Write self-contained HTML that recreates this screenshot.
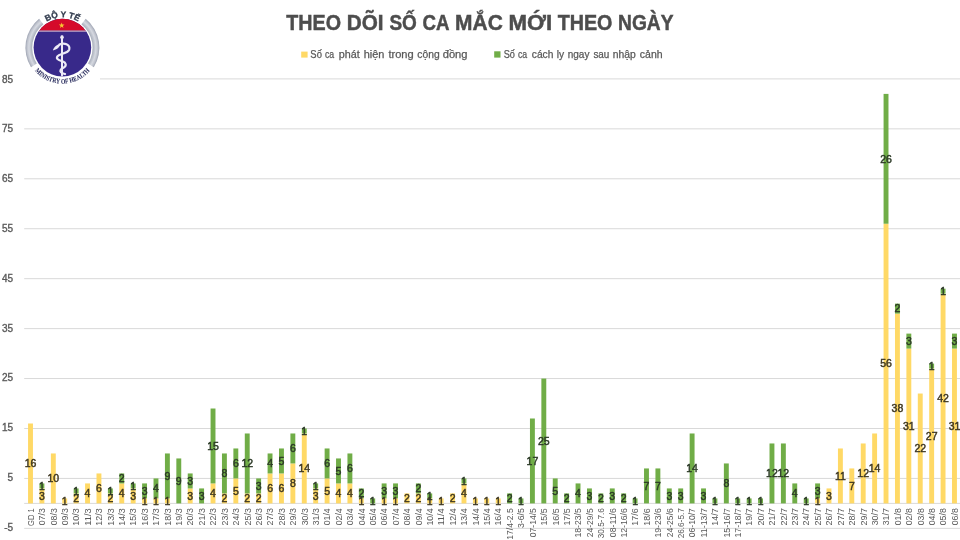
<!DOCTYPE html>
<html><head><meta charset="utf-8"><title>Theo dõi số ca mắc mới theo ngày</title>
<style>html,body{margin:0;padding:0;background:#fff;}svg{display:block;will-change:transform;font-family:'Liberation Sans', sans-serif;}</style>
</head><body>
<svg width="960" height="540" viewBox="0 0 960 540">
<rect width="960" height="540" fill="#fff"/>
<line x1="24.2" y1="528.37" x2="960" y2="528.37" stroke="#D9D9D9" stroke-width="1"/>
<line x1="24.2" y1="478.43" x2="960" y2="478.43" stroke="#D9D9D9" stroke-width="1"/>
<line x1="24.2" y1="428.49" x2="960" y2="428.49" stroke="#D9D9D9" stroke-width="1"/>
<line x1="24.2" y1="378.55" x2="960" y2="378.55" stroke="#D9D9D9" stroke-width="1"/>
<line x1="24.2" y1="328.61" x2="960" y2="328.61" stroke="#D9D9D9" stroke-width="1"/>
<line x1="24.2" y1="278.67" x2="960" y2="278.67" stroke="#D9D9D9" stroke-width="1"/>
<line x1="24.2" y1="228.73" x2="960" y2="228.73" stroke="#D9D9D9" stroke-width="1"/>
<line x1="24.2" y1="178.79" x2="960" y2="178.79" stroke="#D9D9D9" stroke-width="1"/>
<line x1="24.2" y1="128.85" x2="960" y2="128.85" stroke="#D9D9D9" stroke-width="1"/>
<line x1="99.6" y1="78.91" x2="960" y2="78.91" stroke="#D9D9D9" stroke-width="1"/>
<line x1="24.2" y1="503.4" x2="960" y2="503.4" stroke="#D9D9D9" stroke-width="1"/>
<text x="13.1" y="531" font-size="10" fill="#595959" stroke="#595959" stroke-width="0.35" text-anchor="end">-5</text>
<text x="13.1" y="481.06" font-size="10" fill="#595959" stroke="#595959" stroke-width="0.35" text-anchor="end">5</text>
<text x="13.1" y="431.25" font-size="10" fill="#595959" stroke="#595959" stroke-width="0.35" text-anchor="end">15</text>
<text x="13.1" y="381.44" font-size="10" fill="#595959" stroke="#595959" stroke-width="0.35" text-anchor="end">25</text>
<text x="13.1" y="331.63" font-size="10" fill="#595959" stroke="#595959" stroke-width="0.35" text-anchor="end">35</text>
<text x="13.1" y="281.82" font-size="10" fill="#595959" stroke="#595959" stroke-width="0.35" text-anchor="end">45</text>
<text x="13.1" y="232.02" font-size="10" fill="#595959" stroke="#595959" stroke-width="0.35" text-anchor="end">55</text>
<text x="13.1" y="182.21" font-size="10" fill="#595959" stroke="#595959" stroke-width="0.35" text-anchor="end">65</text>
<text x="13.1" y="132.4" font-size="10" fill="#595959" stroke="#595959" stroke-width="0.35" text-anchor="end">75</text>
<text x="13.1" y="82.59" font-size="10" fill="#595959" stroke="#595959" stroke-width="0.35" text-anchor="end">85</text>
<rect x="28.05" y="423.5" width="4.9" height="79.9" fill="#FFD966"/>
<rect x="39.46" y="488.42" width="4.9" height="14.98" fill="#FFD966"/>
<rect x="39.46" y="483.42" width="4.9" height="4.99" fill="#70AD47"/>
<rect x="50.87" y="453.46" width="4.9" height="49.94" fill="#FFD966"/>
<rect x="62.27" y="498.41" width="4.9" height="4.99" fill="#FFD966"/>
<rect x="73.68" y="493.41" width="4.9" height="9.99" fill="#FFD966"/>
<rect x="73.68" y="488.42" width="4.9" height="4.99" fill="#70AD47"/>
<rect x="85.09" y="483.42" width="4.9" height="19.98" fill="#FFD966"/>
<rect x="96.5" y="473.44" width="4.9" height="29.96" fill="#FFD966"/>
<rect x="107.9" y="493.41" width="4.9" height="9.99" fill="#FFD966"/>
<rect x="107.9" y="488.42" width="4.9" height="4.99" fill="#70AD47"/>
<rect x="119.31" y="483.42" width="4.9" height="19.98" fill="#FFD966"/>
<rect x="119.31" y="473.44" width="4.9" height="9.99" fill="#70AD47"/>
<rect x="130.72" y="488.42" width="4.9" height="14.98" fill="#FFD966"/>
<rect x="130.72" y="483.42" width="4.9" height="4.99" fill="#70AD47"/>
<rect x="142.12" y="498.41" width="4.9" height="4.99" fill="#FFD966"/>
<rect x="142.12" y="483.42" width="4.9" height="14.98" fill="#70AD47"/>
<rect x="153.53" y="498.41" width="4.9" height="4.99" fill="#FFD966"/>
<rect x="153.53" y="478.43" width="4.9" height="19.98" fill="#70AD47"/>
<rect x="164.94" y="498.41" width="4.9" height="4.99" fill="#FFD966"/>
<rect x="164.94" y="453.46" width="4.9" height="44.95" fill="#70AD47"/>
<rect x="176.34" y="458.45" width="4.9" height="44.95" fill="#70AD47"/>
<rect x="187.75" y="488.42" width="4.9" height="14.98" fill="#FFD966"/>
<rect x="187.75" y="473.44" width="4.9" height="14.98" fill="#70AD47"/>
<rect x="199.16" y="488.42" width="4.9" height="14.98" fill="#70AD47"/>
<rect x="210.57" y="483.42" width="4.9" height="19.98" fill="#FFD966"/>
<rect x="210.57" y="408.51" width="4.9" height="74.91" fill="#70AD47"/>
<rect x="221.97" y="493.41" width="4.9" height="9.99" fill="#FFD966"/>
<rect x="221.97" y="453.46" width="4.9" height="39.95" fill="#70AD47"/>
<rect x="233.38" y="478.43" width="4.9" height="24.97" fill="#FFD966"/>
<rect x="233.38" y="448.47" width="4.9" height="29.96" fill="#70AD47"/>
<rect x="244.79" y="493.41" width="4.9" height="9.99" fill="#FFD966"/>
<rect x="244.79" y="433.48" width="4.9" height="59.93" fill="#70AD47"/>
<rect x="256.19" y="493.41" width="4.9" height="9.99" fill="#FFD966"/>
<rect x="256.19" y="478.43" width="4.9" height="14.98" fill="#70AD47"/>
<rect x="267.6" y="473.44" width="4.9" height="29.96" fill="#FFD966"/>
<rect x="267.6" y="453.46" width="4.9" height="19.98" fill="#70AD47"/>
<rect x="279.01" y="473.44" width="4.9" height="29.96" fill="#FFD966"/>
<rect x="279.01" y="448.47" width="4.9" height="24.97" fill="#70AD47"/>
<rect x="290.41" y="463.45" width="4.9" height="39.95" fill="#FFD966"/>
<rect x="290.41" y="433.48" width="4.9" height="29.96" fill="#70AD47"/>
<rect x="301.82" y="433.48" width="4.9" height="69.92" fill="#FFD966"/>
<rect x="301.82" y="428.49" width="4.9" height="4.99" fill="#70AD47"/>
<rect x="313.23" y="488.42" width="4.9" height="14.98" fill="#FFD966"/>
<rect x="313.23" y="483.42" width="4.9" height="4.99" fill="#70AD47"/>
<rect x="324.64" y="478.43" width="4.9" height="24.97" fill="#FFD966"/>
<rect x="324.64" y="448.47" width="4.9" height="29.96" fill="#70AD47"/>
<rect x="336.04" y="483.42" width="4.9" height="19.98" fill="#FFD966"/>
<rect x="336.04" y="458.45" width="4.9" height="24.97" fill="#70AD47"/>
<rect x="347.45" y="483.42" width="4.9" height="19.98" fill="#FFD966"/>
<rect x="347.45" y="453.46" width="4.9" height="29.96" fill="#70AD47"/>
<rect x="358.86" y="498.41" width="4.9" height="4.99" fill="#FFD966"/>
<rect x="358.86" y="488.42" width="4.9" height="9.99" fill="#70AD47"/>
<rect x="370.26" y="498.41" width="4.9" height="4.99" fill="#70AD47"/>
<rect x="381.67" y="498.41" width="4.9" height="4.99" fill="#FFD966"/>
<rect x="381.67" y="483.42" width="4.9" height="14.98" fill="#70AD47"/>
<rect x="393.08" y="498.41" width="4.9" height="4.99" fill="#FFD966"/>
<rect x="393.08" y="483.42" width="4.9" height="14.98" fill="#70AD47"/>
<rect x="404.48" y="493.41" width="4.9" height="9.99" fill="#FFD966"/>
<rect x="415.89" y="493.41" width="4.9" height="9.99" fill="#FFD966"/>
<rect x="415.89" y="483.42" width="4.9" height="9.99" fill="#70AD47"/>
<rect x="427.3" y="498.41" width="4.9" height="4.99" fill="#FFD966"/>
<rect x="427.3" y="493.41" width="4.9" height="4.99" fill="#70AD47"/>
<rect x="438.71" y="498.41" width="4.9" height="4.99" fill="#FFD966"/>
<rect x="450.11" y="493.41" width="4.9" height="9.99" fill="#FFD966"/>
<rect x="461.52" y="483.42" width="4.9" height="19.98" fill="#FFD966"/>
<rect x="461.52" y="478.43" width="4.9" height="4.99" fill="#70AD47"/>
<rect x="472.93" y="498.41" width="4.9" height="4.99" fill="#FFD966"/>
<rect x="484.33" y="498.41" width="4.9" height="4.99" fill="#FFD966"/>
<rect x="495.74" y="498.41" width="4.9" height="4.99" fill="#FFD966"/>
<rect x="507.15" y="493.41" width="4.9" height="9.99" fill="#70AD47"/>
<rect x="518.55" y="498.41" width="4.9" height="4.99" fill="#70AD47"/>
<rect x="529.96" y="418.5" width="4.9" height="84.9" fill="#70AD47"/>
<rect x="541.37" y="378.55" width="4.9" height="124.85" fill="#70AD47"/>
<rect x="552.78" y="478.43" width="4.9" height="24.97" fill="#70AD47"/>
<rect x="564.18" y="493.41" width="4.9" height="9.99" fill="#70AD47"/>
<rect x="575.59" y="483.42" width="4.9" height="19.98" fill="#70AD47"/>
<rect x="587" y="488.42" width="4.9" height="14.98" fill="#70AD47"/>
<rect x="598.4" y="493.41" width="4.9" height="9.99" fill="#70AD47"/>
<rect x="609.81" y="488.42" width="4.9" height="14.98" fill="#70AD47"/>
<rect x="621.22" y="493.41" width="4.9" height="9.99" fill="#70AD47"/>
<rect x="632.62" y="498.41" width="4.9" height="4.99" fill="#70AD47"/>
<rect x="644.03" y="468.44" width="4.9" height="34.96" fill="#70AD47"/>
<rect x="655.44" y="468.44" width="4.9" height="34.96" fill="#70AD47"/>
<rect x="666.85" y="488.42" width="4.9" height="14.98" fill="#70AD47"/>
<rect x="678.25" y="488.42" width="4.9" height="14.98" fill="#70AD47"/>
<rect x="689.66" y="433.48" width="4.9" height="69.92" fill="#70AD47"/>
<rect x="701.07" y="488.42" width="4.9" height="14.98" fill="#70AD47"/>
<rect x="712.47" y="498.41" width="4.9" height="4.99" fill="#70AD47"/>
<rect x="723.88" y="463.45" width="4.9" height="39.95" fill="#70AD47"/>
<rect x="735.29" y="498.41" width="4.9" height="4.99" fill="#70AD47"/>
<rect x="746.69" y="498.41" width="4.9" height="4.99" fill="#70AD47"/>
<rect x="758.1" y="498.41" width="4.9" height="4.99" fill="#70AD47"/>
<rect x="769.51" y="443.47" width="4.9" height="59.93" fill="#70AD47"/>
<rect x="780.92" y="443.47" width="4.9" height="59.93" fill="#70AD47"/>
<rect x="792.32" y="483.42" width="4.9" height="19.98" fill="#70AD47"/>
<rect x="803.73" y="498.41" width="4.9" height="4.99" fill="#70AD47"/>
<rect x="815.14" y="498.41" width="4.9" height="4.99" fill="#FFD966"/>
<rect x="815.14" y="483.42" width="4.9" height="14.98" fill="#70AD47"/>
<rect x="826.54" y="488.42" width="4.9" height="14.98" fill="#FFD966"/>
<rect x="837.95" y="448.47" width="4.9" height="54.93" fill="#FFD966"/>
<rect x="849.36" y="468.44" width="4.9" height="34.96" fill="#FFD966"/>
<rect x="860.76" y="443.47" width="4.9" height="59.93" fill="#FFD966"/>
<rect x="872.17" y="433.48" width="4.9" height="69.92" fill="#FFD966"/>
<rect x="883.58" y="223.74" width="4.9" height="279.66" fill="#FFD966"/>
<rect x="883.58" y="93.89" width="4.9" height="129.84" fill="#70AD47"/>
<rect x="894.99" y="313.63" width="4.9" height="189.77" fill="#FFD966"/>
<rect x="894.99" y="303.64" width="4.9" height="9.99" fill="#70AD47"/>
<rect x="906.39" y="348.59" width="4.9" height="154.81" fill="#FFD966"/>
<rect x="906.39" y="333.6" width="4.9" height="14.98" fill="#70AD47"/>
<rect x="917.8" y="393.53" width="4.9" height="109.87" fill="#FFD966"/>
<rect x="929.21" y="368.56" width="4.9" height="134.84" fill="#FFD966"/>
<rect x="929.21" y="363.57" width="4.9" height="4.99" fill="#70AD47"/>
<rect x="940.61" y="293.65" width="4.9" height="209.75" fill="#FFD966"/>
<rect x="940.61" y="288.66" width="4.9" height="4.99" fill="#70AD47"/>
<rect x="952.02" y="348.59" width="4.9" height="154.81" fill="#FFD966"/>
<rect x="952.02" y="333.6" width="4.9" height="14.98" fill="#70AD47"/>
<g font-size="10.5" fill="#383838" stroke="#383838" stroke-width="0.45" text-anchor="middle"><text x="30.5" y="467.21" fill="#3F3822" stroke="#3F3822">16</text><text x="41.91" y="499.67" fill="#3F3822" stroke="#3F3822">3</text><text x="41.91" y="489.68" fill="#2C3A27" stroke="#2C3A27">1</text><text x="53.32" y="482.19" fill="#3F3822" stroke="#3F3822">10</text><text x="64.72" y="504.66" fill="#3F3822" stroke="#3F3822">1</text><text x="76.13" y="502.16" fill="#3F3822" stroke="#3F3822">2</text><text x="76.13" y="494.67" fill="#2C3A27" stroke="#2C3A27">1</text><text x="87.54" y="497.17" fill="#3F3822" stroke="#3F3822">4</text><text x="98.95" y="492.18" fill="#3F3822" stroke="#3F3822">6</text><text x="110.35" y="502.16" fill="#3F3822" stroke="#3F3822">2</text><text x="110.35" y="494.67" fill="#2C3A27" stroke="#2C3A27">1</text><text x="121.76" y="497.17" fill="#3F3822" stroke="#3F3822">4</text><text x="121.76" y="482.19" fill="#2C3A27" stroke="#2C3A27">2</text><text x="133.17" y="499.67" fill="#3F3822" stroke="#3F3822">3</text><text x="133.17" y="489.68" fill="#2C3A27" stroke="#2C3A27">1</text><text x="144.57" y="504.66" fill="#3F3822" stroke="#3F3822">1</text><text x="144.57" y="494.67" fill="#2C3A27" stroke="#2C3A27">3</text><text x="155.98" y="504.66" fill="#3F3822" stroke="#3F3822">1</text><text x="155.98" y="492.18" fill="#2C3A27" stroke="#2C3A27">4</text><text x="167.39" y="504.66" fill="#3F3822" stroke="#3F3822">1</text><text x="167.39" y="479.69" fill="#2C3A27" stroke="#2C3A27">9</text><text x="178.79" y="484.69" fill="#2C3A27" stroke="#2C3A27">9</text><text x="190.2" y="499.67" fill="#3F3822" stroke="#3F3822">3</text><text x="190.2" y="484.69" fill="#2C3A27" stroke="#2C3A27">3</text><text x="201.61" y="499.67" fill="#2C3A27" stroke="#2C3A27">3</text><text x="213.02" y="497.17" fill="#3F3822" stroke="#3F3822">4</text><text x="213.02" y="449.73" fill="#2C3A27" stroke="#2C3A27">15</text><text x="224.42" y="502.16" fill="#3F3822" stroke="#3F3822">2</text><text x="224.42" y="477.19" fill="#2C3A27" stroke="#2C3A27">8</text><text x="235.83" y="494.67" fill="#3F3822" stroke="#3F3822">5</text><text x="235.83" y="467.21" fill="#2C3A27" stroke="#2C3A27">6</text><text x="247.24" y="502.16" fill="#3F3822" stroke="#3F3822">2</text><text x="247.24" y="467.21" fill="#2C3A27" stroke="#2C3A27">12</text><text x="258.64" y="502.16" fill="#3F3822" stroke="#3F3822">2</text><text x="258.64" y="489.68" fill="#2C3A27" stroke="#2C3A27">3</text><text x="270.05" y="492.18" fill="#3F3822" stroke="#3F3822">6</text><text x="270.05" y="467.21" fill="#2C3A27" stroke="#2C3A27">4</text><text x="281.46" y="492.18" fill="#3F3822" stroke="#3F3822">6</text><text x="281.46" y="464.71" fill="#2C3A27" stroke="#2C3A27">5</text><text x="292.86" y="487.18" fill="#3F3822" stroke="#3F3822">8</text><text x="292.86" y="452.23" fill="#2C3A27" stroke="#2C3A27">6</text><text x="304.27" y="472.2" fill="#3F3822" stroke="#3F3822">14</text><text x="304.27" y="434.75" fill="#2C3A27" stroke="#2C3A27">1</text><text x="315.68" y="499.67" fill="#3F3822" stroke="#3F3822">3</text><text x="315.68" y="489.68" fill="#2C3A27" stroke="#2C3A27">1</text><text x="327.09" y="494.67" fill="#3F3822" stroke="#3F3822">5</text><text x="327.09" y="467.21" fill="#2C3A27" stroke="#2C3A27">6</text><text x="338.49" y="497.17" fill="#3F3822" stroke="#3F3822">4</text><text x="338.49" y="474.7" fill="#2C3A27" stroke="#2C3A27">5</text><text x="349.9" y="497.17" fill="#3F3822" stroke="#3F3822">4</text><text x="349.9" y="472.2" fill="#2C3A27" stroke="#2C3A27">6</text><text x="361.31" y="504.66" fill="#3F3822" stroke="#3F3822">1</text><text x="361.31" y="497.17" fill="#2C3A27" stroke="#2C3A27">2</text><text x="372.71" y="504.66" fill="#2C3A27" stroke="#2C3A27">1</text><text x="384.12" y="504.66" fill="#3F3822" stroke="#3F3822">1</text><text x="384.12" y="494.67" fill="#2C3A27" stroke="#2C3A27">3</text><text x="395.53" y="504.66" fill="#3F3822" stroke="#3F3822">1</text><text x="395.53" y="494.67" fill="#2C3A27" stroke="#2C3A27">3</text><text x="406.93" y="502.16" fill="#3F3822" stroke="#3F3822">2</text><text x="418.34" y="502.16" fill="#3F3822" stroke="#3F3822">2</text><text x="418.34" y="492.18" fill="#2C3A27" stroke="#2C3A27">2</text><text x="429.75" y="504.66" fill="#3F3822" stroke="#3F3822">1</text><text x="429.75" y="499.67" fill="#2C3A27" stroke="#2C3A27">1</text><text x="441.16" y="504.66" fill="#3F3822" stroke="#3F3822">1</text><text x="452.56" y="502.16" fill="#3F3822" stroke="#3F3822">2</text><text x="463.97" y="497.17" fill="#3F3822" stroke="#3F3822">4</text><text x="463.97" y="484.69" fill="#2C3A27" stroke="#2C3A27">1</text><text x="475.38" y="504.66" fill="#3F3822" stroke="#3F3822">1</text><text x="486.78" y="504.66" fill="#3F3822" stroke="#3F3822">1</text><text x="498.19" y="504.66" fill="#3F3822" stroke="#3F3822">1</text><text x="509.6" y="502.16" fill="#2C3A27" stroke="#2C3A27">2</text><text x="521" y="504.66" fill="#2C3A27" stroke="#2C3A27">1</text><text x="532.41" y="464.71" fill="#2C3A27" stroke="#2C3A27">17</text><text x="543.82" y="444.73" fill="#2C3A27" stroke="#2C3A27">25</text><text x="555.23" y="494.67" fill="#2C3A27" stroke="#2C3A27">5</text><text x="566.63" y="502.16" fill="#2C3A27" stroke="#2C3A27">2</text><text x="578.04" y="497.17" fill="#2C3A27" stroke="#2C3A27">4</text><text x="589.45" y="499.67" fill="#2C3A27" stroke="#2C3A27">3</text><text x="600.85" y="502.16" fill="#2C3A27" stroke="#2C3A27">2</text><text x="612.26" y="499.67" fill="#2C3A27" stroke="#2C3A27">3</text><text x="623.67" y="502.16" fill="#2C3A27" stroke="#2C3A27">2</text><text x="635.07" y="504.66" fill="#2C3A27" stroke="#2C3A27">1</text><text x="646.48" y="489.68" fill="#2C3A27" stroke="#2C3A27">7</text><text x="657.89" y="489.68" fill="#2C3A27" stroke="#2C3A27">7</text><text x="669.3" y="499.67" fill="#2C3A27" stroke="#2C3A27">3</text><text x="680.7" y="499.67" fill="#2C3A27" stroke="#2C3A27">3</text><text x="692.11" y="472.2" fill="#2C3A27" stroke="#2C3A27">14</text><text x="703.52" y="499.67" fill="#2C3A27" stroke="#2C3A27">3</text><text x="714.92" y="504.66" fill="#2C3A27" stroke="#2C3A27">1</text><text x="726.33" y="487.18" fill="#2C3A27" stroke="#2C3A27">8</text><text x="737.74" y="504.66" fill="#2C3A27" stroke="#2C3A27">1</text><text x="749.14" y="504.66" fill="#2C3A27" stroke="#2C3A27">1</text><text x="760.55" y="504.66" fill="#2C3A27" stroke="#2C3A27">1</text><text x="771.96" y="477.19" fill="#2C3A27" stroke="#2C3A27">12</text><text x="783.37" y="477.19" fill="#2C3A27" stroke="#2C3A27">12</text><text x="794.77" y="497.17" fill="#2C3A27" stroke="#2C3A27">4</text><text x="806.18" y="504.66" fill="#2C3A27" stroke="#2C3A27">1</text><text x="817.59" y="504.66" fill="#3F3822" stroke="#3F3822">1</text><text x="817.59" y="494.67" fill="#2C3A27" stroke="#2C3A27">3</text><text x="828.99" y="499.67" fill="#3F3822" stroke="#3F3822">3</text><text x="840.4" y="479.69" fill="#3F3822" stroke="#3F3822">11</text><text x="851.81" y="489.68" fill="#3F3822" stroke="#3F3822">7</text><text x="863.21" y="477.19" fill="#3F3822" stroke="#3F3822">12</text><text x="874.62" y="472.2" fill="#3F3822" stroke="#3F3822">14</text><text x="886.03" y="367.33" fill="#3F3822" stroke="#3F3822">56</text><text x="886.03" y="162.57" fill="#2C3A27" stroke="#2C3A27">26</text><text x="897.44" y="412.27" fill="#3F3822" stroke="#3F3822">38</text><text x="897.44" y="312.39" fill="#2C3A27" stroke="#2C3A27">2</text><text x="908.84" y="429.75" fill="#3F3822" stroke="#3F3822">31</text><text x="908.84" y="344.85" fill="#2C3A27" stroke="#2C3A27">3</text><text x="920.25" y="452.23" fill="#3F3822" stroke="#3F3822">22</text><text x="931.66" y="439.74" fill="#3F3822" stroke="#3F3822">27</text><text x="931.66" y="369.82" fill="#2C3A27" stroke="#2C3A27">1</text><text x="943.06" y="402.28" fill="#3F3822" stroke="#3F3822">42</text><text x="943.06" y="294.91" fill="#2C3A27" stroke="#2C3A27">1</text><text x="954.47" y="429.75" fill="#3F3822" stroke="#3F3822">31</text><text x="954.47" y="344.85" fill="#2C3A27" stroke="#2C3A27">3</text></g>
<g font-size="8.2" fill="#595959" stroke="#595959" stroke-width="0"><text transform="translate(33.79,508.6) rotate(-90)" x="-17.38" textLength="17.76" lengthAdjust="spacingAndGlyphs">GD 1</text><text transform="translate(45.2,508.6) rotate(-90)" x="-16.7" textLength="17.08" lengthAdjust="spacingAndGlyphs">07/3</text><text transform="translate(56.6,508.6) rotate(-90)" x="-16.7" textLength="17.08" lengthAdjust="spacingAndGlyphs">08/3</text><text transform="translate(68.01,508.6) rotate(-90)" x="-16.7" textLength="17.08" lengthAdjust="spacingAndGlyphs">09/3</text><text transform="translate(79.42,508.6) rotate(-90)" x="-17.04" textLength="17.43" lengthAdjust="spacingAndGlyphs">10/3</text><text transform="translate(90.82,508.6) rotate(-90)" x="-17.04" textLength="17.43" lengthAdjust="spacingAndGlyphs">11/3</text><text transform="translate(102.23,508.6) rotate(-90)" x="-17.04" textLength="17.43" lengthAdjust="spacingAndGlyphs">12/3</text><text transform="translate(113.64,508.6) rotate(-90)" x="-17.04" textLength="17.43" lengthAdjust="spacingAndGlyphs">13/3</text><text transform="translate(125.05,508.6) rotate(-90)" x="-17.04" textLength="17.43" lengthAdjust="spacingAndGlyphs">14/3</text><text transform="translate(136.45,508.6) rotate(-90)" x="-17.04" textLength="17.43" lengthAdjust="spacingAndGlyphs">15/3</text><text transform="translate(147.86,508.6) rotate(-90)" x="-17.04" textLength="17.43" lengthAdjust="spacingAndGlyphs">16/3</text><text transform="translate(159.27,508.6) rotate(-90)" x="-17.04" textLength="17.43" lengthAdjust="spacingAndGlyphs">17/3</text><text transform="translate(170.67,508.6) rotate(-90)" x="-17.04" textLength="17.43" lengthAdjust="spacingAndGlyphs">18/3</text><text transform="translate(182.08,508.6) rotate(-90)" x="-17.04" textLength="17.43" lengthAdjust="spacingAndGlyphs">19/3</text><text transform="translate(193.49,508.6) rotate(-90)" x="-16.8" textLength="17.19" lengthAdjust="spacingAndGlyphs">20/3</text><text transform="translate(204.89,508.6) rotate(-90)" x="-16.8" textLength="17.19" lengthAdjust="spacingAndGlyphs">21/3</text><text transform="translate(216.3,508.6) rotate(-90)" x="-16.8" textLength="17.19" lengthAdjust="spacingAndGlyphs">22/3</text><text transform="translate(227.71,508.6) rotate(-90)" x="-16.8" textLength="17.19" lengthAdjust="spacingAndGlyphs">23/3</text><text transform="translate(239.12,508.6) rotate(-90)" x="-16.8" textLength="17.19" lengthAdjust="spacingAndGlyphs">24/3</text><text transform="translate(250.52,508.6) rotate(-90)" x="-16.8" textLength="17.19" lengthAdjust="spacingAndGlyphs">25/3</text><text transform="translate(261.93,508.6) rotate(-90)" x="-16.8" textLength="17.19" lengthAdjust="spacingAndGlyphs">26/3</text><text transform="translate(273.34,508.6) rotate(-90)" x="-16.8" textLength="17.19" lengthAdjust="spacingAndGlyphs">27/3</text><text transform="translate(284.74,508.6) rotate(-90)" x="-16.8" textLength="17.19" lengthAdjust="spacingAndGlyphs">28/3</text><text transform="translate(296.15,508.6) rotate(-90)" x="-16.8" textLength="17.19" lengthAdjust="spacingAndGlyphs">29/3</text><text transform="translate(307.56,508.6) rotate(-90)" x="-16.69" textLength="17.07" lengthAdjust="spacingAndGlyphs">30/3</text><text transform="translate(318.96,508.6) rotate(-90)" x="-16.69" textLength="17.07" lengthAdjust="spacingAndGlyphs">31/3</text><text transform="translate(330.37,508.6) rotate(-90)" x="-16.69" textLength="16.95" lengthAdjust="spacingAndGlyphs">01/4</text><text transform="translate(341.78,508.6) rotate(-90)" x="-16.69" textLength="16.95" lengthAdjust="spacingAndGlyphs">02/4</text><text transform="translate(353.19,508.6) rotate(-90)" x="-16.69" textLength="16.95" lengthAdjust="spacingAndGlyphs">03/4</text><text transform="translate(364.59,508.6) rotate(-90)" x="-16.69" textLength="16.95" lengthAdjust="spacingAndGlyphs">04/4</text><text transform="translate(376,508.6) rotate(-90)" x="-16.69" textLength="16.95" lengthAdjust="spacingAndGlyphs">05/4</text><text transform="translate(387.41,508.6) rotate(-90)" x="-16.69" textLength="16.95" lengthAdjust="spacingAndGlyphs">06/4</text><text transform="translate(398.81,508.6) rotate(-90)" x="-16.69" textLength="16.95" lengthAdjust="spacingAndGlyphs">07/4</text><text transform="translate(410.22,508.6) rotate(-90)" x="-16.69" textLength="16.95" lengthAdjust="spacingAndGlyphs">08/4</text><text transform="translate(421.63,508.6) rotate(-90)" x="-16.69" textLength="16.95" lengthAdjust="spacingAndGlyphs">09/4</text><text transform="translate(433.03,508.6) rotate(-90)" x="-17.03" textLength="17.29" lengthAdjust="spacingAndGlyphs">10/4</text><text transform="translate(444.44,508.6) rotate(-90)" x="-17.03" textLength="17.29" lengthAdjust="spacingAndGlyphs">11/4</text><text transform="translate(455.85,508.6) rotate(-90)" x="-17.03" textLength="17.29" lengthAdjust="spacingAndGlyphs">12/4</text><text transform="translate(467.26,508.6) rotate(-90)" x="-17.03" textLength="17.29" lengthAdjust="spacingAndGlyphs">13/4</text><text transform="translate(478.66,508.6) rotate(-90)" x="-17.03" textLength="17.29" lengthAdjust="spacingAndGlyphs">14/4</text><text transform="translate(490.07,508.6) rotate(-90)" x="-17.03" textLength="17.29" lengthAdjust="spacingAndGlyphs">15/4</text><text transform="translate(501.48,508.6) rotate(-90)" x="-17.03" textLength="17.29" lengthAdjust="spacingAndGlyphs">16/4</text><text transform="translate(512.88,508.6) rotate(-90)" x="-31.16" textLength="31.52" lengthAdjust="spacingAndGlyphs">17/4-2.5</text><text transform="translate(524.29,508.6) rotate(-90)" x="-19.44" textLength="19.8" lengthAdjust="spacingAndGlyphs">3-6/5</text><text transform="translate(535.7,508.6) rotate(-90)" x="-28.57" textLength="28.92" lengthAdjust="spacingAndGlyphs">07-14/5</text><text transform="translate(547.1,508.6) rotate(-90)" x="-17.03" textLength="17.41" lengthAdjust="spacingAndGlyphs">15/5</text><text transform="translate(558.51,508.6) rotate(-90)" x="-17.03" textLength="17.41" lengthAdjust="spacingAndGlyphs">16/5</text><text transform="translate(569.92,508.6) rotate(-90)" x="-17.03" textLength="17.41" lengthAdjust="spacingAndGlyphs">17/5</text><text transform="translate(581.33,508.6) rotate(-90)" x="-28.89" textLength="29.25" lengthAdjust="spacingAndGlyphs">18-23/5</text><text transform="translate(592.73,508.6) rotate(-90)" x="-28.66" textLength="29.02" lengthAdjust="spacingAndGlyphs">24-29/5</text><text transform="translate(604.14,508.6) rotate(-90)" x="-29.61" textLength="29.96" lengthAdjust="spacingAndGlyphs">30.5-7.6</text><text transform="translate(615.55,508.6) rotate(-90)" x="-28.57" textLength="28.94" lengthAdjust="spacingAndGlyphs">08-11/6</text><text transform="translate(626.95,508.6) rotate(-90)" x="-28.89" textLength="29.27" lengthAdjust="spacingAndGlyphs">12-16/6</text><text transform="translate(638.36,508.6) rotate(-90)" x="-17.04" textLength="17.43" lengthAdjust="spacingAndGlyphs">17/6</text><text transform="translate(649.77,508.6) rotate(-90)" x="-17.04" textLength="17.43" lengthAdjust="spacingAndGlyphs">18/6</text><text transform="translate(661.17,508.6) rotate(-90)" x="-28.89" textLength="29.27" lengthAdjust="spacingAndGlyphs">19-23/6</text><text transform="translate(672.58,508.6) rotate(-90)" x="-28.66" textLength="29.04" lengthAdjust="spacingAndGlyphs">24-25/6</text><text transform="translate(683.99,508.6) rotate(-90)" x="-29.71" textLength="30.12" lengthAdjust="spacingAndGlyphs">26.6-5.7</text><text transform="translate(695.4,508.6) rotate(-90)" x="-28.57" textLength="29" lengthAdjust="spacingAndGlyphs">06-10/7</text><text transform="translate(706.8,508.6) rotate(-90)" x="-28.89" textLength="29.33" lengthAdjust="spacingAndGlyphs">11-13/7</text><text transform="translate(718.21,508.6) rotate(-90)" x="-17.04" textLength="17.49" lengthAdjust="spacingAndGlyphs">14/7</text><text transform="translate(729.62,508.6) rotate(-90)" x="-28.89" textLength="29.33" lengthAdjust="spacingAndGlyphs">15-16/7</text><text transform="translate(741.02,508.6) rotate(-90)" x="-28.89" textLength="29.33" lengthAdjust="spacingAndGlyphs">17-18/7</text><text transform="translate(752.43,508.6) rotate(-90)" x="-17.04" textLength="17.49" lengthAdjust="spacingAndGlyphs">19/7</text><text transform="translate(763.84,508.6) rotate(-90)" x="-16.8" textLength="17.24" lengthAdjust="spacingAndGlyphs">20/7</text><text transform="translate(775.24,508.6) rotate(-90)" x="-16.8" textLength="17.24" lengthAdjust="spacingAndGlyphs">21/7</text><text transform="translate(786.65,508.6) rotate(-90)" x="-16.8" textLength="17.24" lengthAdjust="spacingAndGlyphs">22/7</text><text transform="translate(798.06,508.6) rotate(-90)" x="-16.8" textLength="17.24" lengthAdjust="spacingAndGlyphs">23/7</text><text transform="translate(809.47,508.6) rotate(-90)" x="-16.8" textLength="17.24" lengthAdjust="spacingAndGlyphs">24/7</text><text transform="translate(820.87,508.6) rotate(-90)" x="-16.8" textLength="17.24" lengthAdjust="spacingAndGlyphs">25/7</text><text transform="translate(832.28,508.6) rotate(-90)" x="-16.8" textLength="17.24" lengthAdjust="spacingAndGlyphs">26/7</text><text transform="translate(843.69,508.6) rotate(-90)" x="-16.8" textLength="17.24" lengthAdjust="spacingAndGlyphs">27/7</text><text transform="translate(855.09,508.6) rotate(-90)" x="-16.8" textLength="17.24" lengthAdjust="spacingAndGlyphs">28/7</text><text transform="translate(866.5,508.6) rotate(-90)" x="-16.8" textLength="17.24" lengthAdjust="spacingAndGlyphs">29/7</text><text transform="translate(877.91,508.6) rotate(-90)" x="-16.69" textLength="17.13" lengthAdjust="spacingAndGlyphs">30/7</text><text transform="translate(889.31,508.6) rotate(-90)" x="-16.69" textLength="17.13" lengthAdjust="spacingAndGlyphs">31/7</text><text transform="translate(900.72,508.6) rotate(-90)" x="-16.7" textLength="17.08" lengthAdjust="spacingAndGlyphs">01/8</text><text transform="translate(912.13,508.6) rotate(-90)" x="-16.7" textLength="17.08" lengthAdjust="spacingAndGlyphs">02/8</text><text transform="translate(923.54,508.6) rotate(-90)" x="-16.7" textLength="17.08" lengthAdjust="spacingAndGlyphs">03/8</text><text transform="translate(934.94,508.6) rotate(-90)" x="-16.7" textLength="17.08" lengthAdjust="spacingAndGlyphs">04/8</text><text transform="translate(946.35,508.6) rotate(-90)" x="-16.7" textLength="17.08" lengthAdjust="spacingAndGlyphs">05/8</text><text transform="translate(957.76,508.6) rotate(-90)" x="-16.7" textLength="17.08" lengthAdjust="spacingAndGlyphs">06/8</text></g>
<g font-size="22.4" font-weight="bold" fill="#4D4D4D" stroke="#4D4D4D" stroke-width="0.5"><text x="286.28" y="30.4" textLength="54.75" lengthAdjust="spacingAndGlyphs">THEO</text><text x="346.82" y="30.4" textLength="36.77" lengthAdjust="spacingAndGlyphs">DÕI</text><text x="389.45" y="30.4" textLength="27.44" lengthAdjust="spacingAndGlyphs">SỐ</text><text x="422.43" y="30.4" textLength="26.96" lengthAdjust="spacingAndGlyphs">CA</text><text x="455.1" y="30.4" textLength="47.67" lengthAdjust="spacingAndGlyphs">MẮC</text><text x="508.51" y="30.4" textLength="43.68" lengthAdjust="spacingAndGlyphs">MỚI</text><text x="557.68" y="30.4" textLength="54.75" lengthAdjust="spacingAndGlyphs">THEO</text><text x="618.12" y="30.4" textLength="55.39" lengthAdjust="spacingAndGlyphs">NGÀY</text></g>
<rect x="301.2" y="51.6" width="6.4" height="6" fill="#FFD966"/>
<rect x="494.2" y="51.3" width="6.3" height="6.3" fill="#70AD47"/>
<g font-size="10" fill="#595959" stroke="#595959" stroke-width="0.25"><text x="310.37" y="57.7" textLength="11.52" lengthAdjust="spacingAndGlyphs">Số</text><text x="325.03" y="57.7" textLength="9.17" lengthAdjust="spacingAndGlyphs">ca</text><text x="338.81" y="57.7" textLength="20.97" lengthAdjust="spacingAndGlyphs">phát</text><text x="363.74" y="57.7" textLength="20.67" lengthAdjust="spacingAndGlyphs">hiện</text><text x="388.43" y="57.7" textLength="25.28" lengthAdjust="spacingAndGlyphs">trong</text><text x="417.36" y="57.7" textLength="22.3" lengthAdjust="spacingAndGlyphs">cộng</text><text x="442.73" y="57.7" textLength="24.79" lengthAdjust="spacingAndGlyphs">đồng</text><text x="503.68" y="57.7" textLength="11.2" lengthAdjust="spacingAndGlyphs">Số</text><text x="518.03" y="57.7" textLength="9.17" lengthAdjust="spacingAndGlyphs">ca</text><text x="531.77" y="57.7" textLength="21.6" lengthAdjust="spacingAndGlyphs">cách</text><text x="556.81" y="57.7" textLength="7.41" lengthAdjust="spacingAndGlyphs">ly</text><text x="567.74" y="57.7" textLength="21.68" lengthAdjust="spacingAndGlyphs">ngay</text><text x="593.42" y="57.7" textLength="15.93" lengthAdjust="spacingAndGlyphs">sau</text><text x="612.71" y="57.7" textLength="23.02" lengthAdjust="spacingAndGlyphs">nhập</text><text x="639.85" y="57.7" textLength="22.73" lengthAdjust="spacingAndGlyphs">cảnh</text></g>
<g id="logo">
<defs>
<clipPath id="lc"><circle cx="62.4" cy="47.6" r="28.8"/></clipPath>
<radialGradient id="rg" cx="62.4" cy="47.6" r="37.2" gradientUnits="userSpaceOnUse"><stop offset="0.8" stop-color="#A4AAB8"/><stop offset="0.85" stop-color="#BCC1CB"/><stop offset="0.9" stop-color="#D6D9E1"/><stop offset="0.95" stop-color="#C0C4CE"/><stop offset="1" stop-color="#989EAE"/></radialGradient>
<path id="tp" d="M34.85,34.75 A30.4,30.4 0 0 1 89.95,34.75"/>
<path id="bp" d="M30.61,64.5 A36.0,36.0 0 0 0 94.19,64.5"/>
</defs>
<rect x="20" y="6" width="80" height="82" fill="#fff"/>
<path d="M31.02,67.21 A37.0,37.0 0 0 1 39.12,18.85 L43.39,24.13 A30.2,30.2 0 0 0 36.79,63.6 Z" fill="url(#rg)"/>
<path d="M85.68,18.85 A37.0,37.0 0 0 1 93.78,67.21 L88.01,63.6 A30.2,30.2 0 0 0 81.41,24.13 Z" fill="url(#rg)"/>
<circle cx="62.4" cy="47.6" r="28.8" fill="#38298A"/>
<g clip-path="url(#lc)"><rect x="30" y="15" width="65" height="15.6" fill="#D50A2A"/><rect x="30" y="30.6" width="65" height="1" fill="#E8C8D8"/></g>
<polygon points="61.7,22.5 62.43,24.49 64.55,24.57 62.89,25.89 63.46,27.93 61.7,26.75 59.94,27.93 60.51,25.89 58.85,24.57 60.97,24.49" fill="#F7C531"/>
<g fill="none" stroke="#ECEAF6" stroke-linecap="round">
<line x1="62" y1="36.5" x2="62" y2="75.5" stroke-width="2"/>
<path d="M59.5,44.6 C64,42.3 70.5,44.5 69.2,49.6 C68,53.6 59.2,53.6 57.4,56.3 C55.6,59.3 59.5,60.2 62.5,61.3 C66.3,62.7 66.8,65.8 63.8,67.5 C60.8,69.1 59.4,70.5 61,72.2 C62.2,73.3 64,73.6 65,74" stroke-width="2.2"/>
</g>
<ellipse cx="62" cy="37.2" rx="1.75" ry="1.9" fill="#ECEAF6"/>
<path d="M52.9,50.4 C53.6,47.2 56.4,44.6 60.4,44 C59.8,47.3 56.6,49.8 52.9,50.4 Z" fill="#ECEAF6"/>
<text font-family="'Liberation Sans', sans-serif" font-weight="bold" font-size="8.4" fill="#333D4F" stroke="#333D4F" stroke-width="0.3"><textPath href="#tp" startOffset="50%" text-anchor="middle">BỘ Y TẾ</textPath></text>
<text font-family="'Liberation Serif', serif" font-weight="bold" font-size="6.9" fill="#2A2D5E" stroke="#2A2D5E" stroke-width="0.05"><textPath href="#bp" startOffset="50%" text-anchor="middle" textLength="63" lengthAdjust="spacingAndGlyphs">MINISTRY OF HEALTH</textPath></text>
</g>
</svg>
</body></html>
